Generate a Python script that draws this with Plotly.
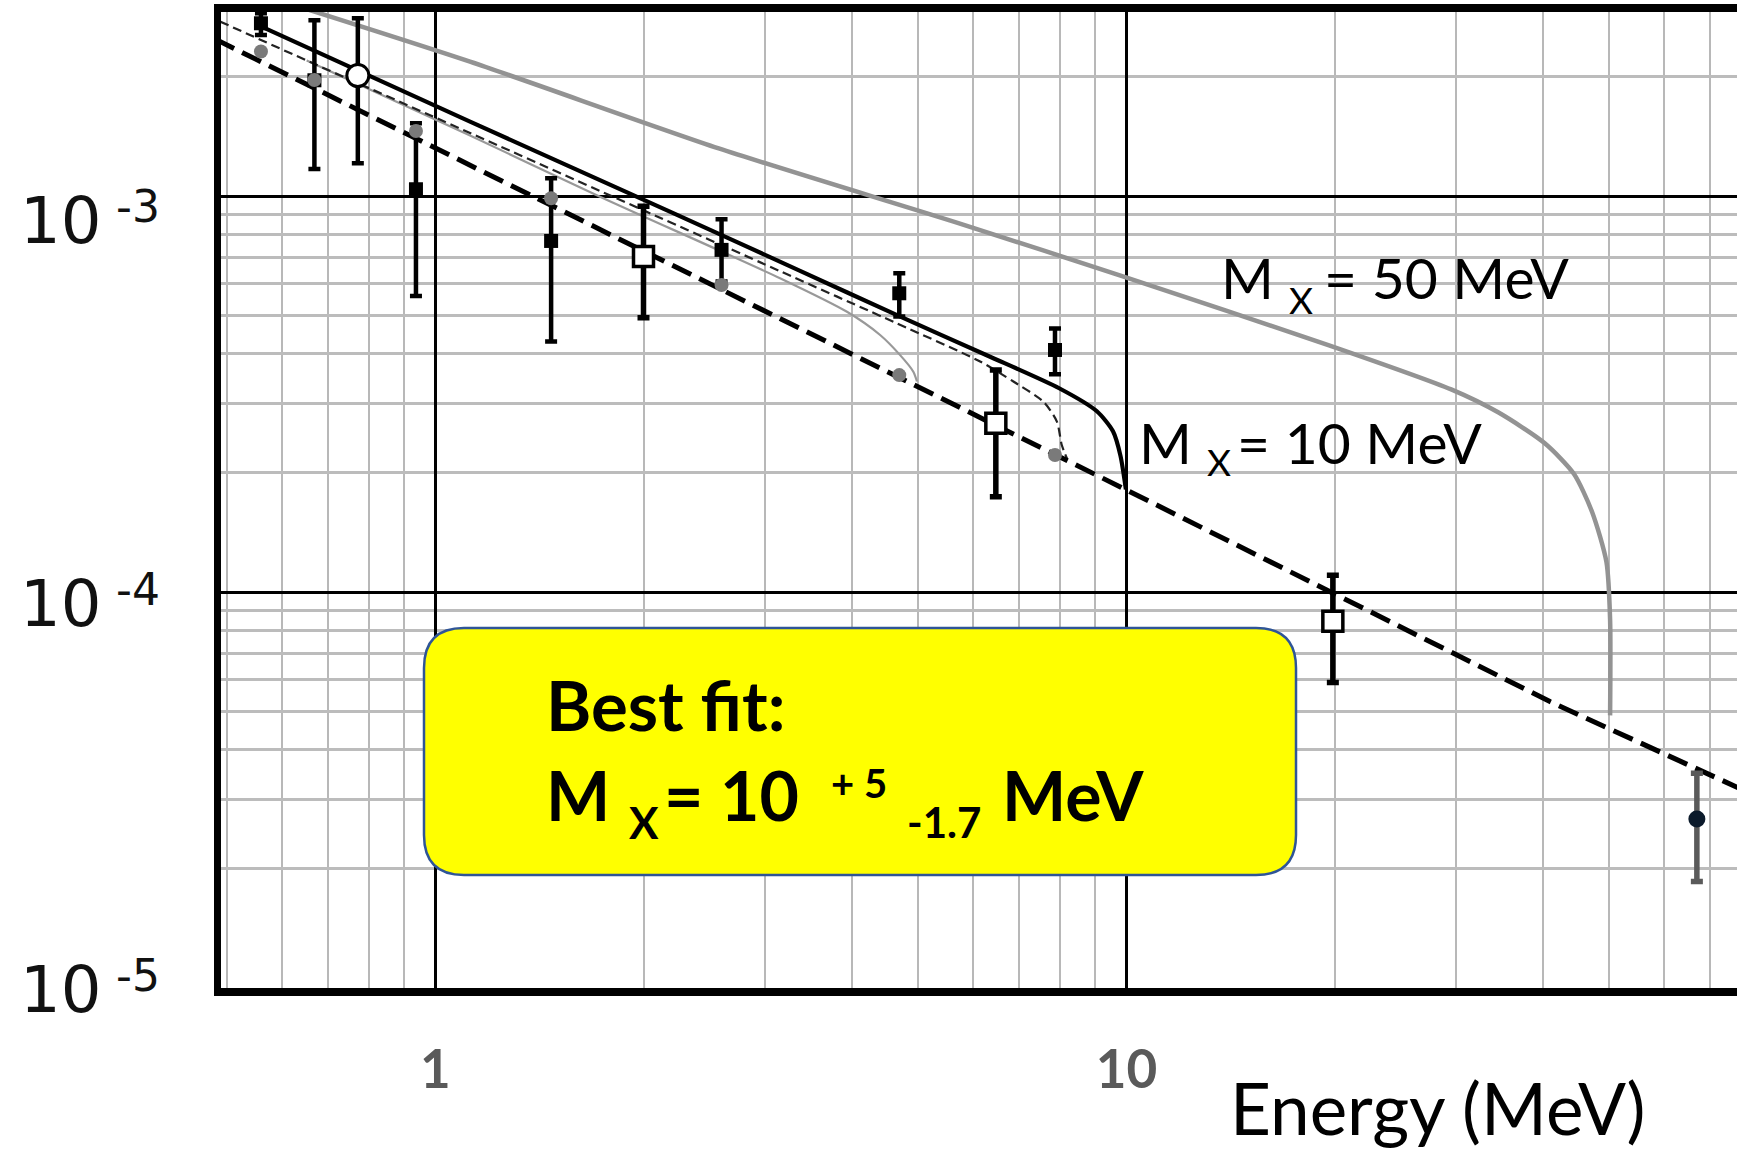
import math
import plotly.graph_objects as go

# ---------------- data ----------------
# thick dashed: no-X expectation
energy_bg = [0.48, 1.122, 10.0, 41.0, 80.0]
flux_bg = [2.49e-3, 1.197e-3, 1.81e-4, 5.29e-5, 3.10e-5]

# solid black: M_X = 10 MeV
energy_m10 = [0.560, 1.122, 2.2, 3.37, 4.655, 6.3, 7.99, 9.06, 9.56, 9.80, 9.98]
flux_m10 = [2.677e-3, 1.541e-3, 9.08e-4, 6.47e-4, 5.00e-4, 3.95e-4, 3.27e-4, 2.86e-4, 2.545e-4, 2.21e-4, 1.816e-4]

# thin dashed: intermediate mass
energy_m8 = [0.488, 0.665, 1.122, 2.0, 3.152, 4.65, 6.14, 6.86, 7.58, 7.93, 8.06, 8.20]
flux_m8 = [2.757e-3, 2.163e-3, 1.443e-3, 9.20e-4, 6.46e-4, 4.77e-4, 3.82e-4, 3.40e-4, 3.025e-4, 2.694e-4, 2.35e-4, 2.176e-4]

# thin grey solid: lower mass
energy_m5 = [0.651, 1.122, 1.73, 3.152, 3.94, 4.40, 4.70, 4.915, 4.975]
flux_m5 = [2.2e-3, 1.421e-3, 9.96e-4, 6.20e-4, 5.10e-4, 4.457e-4, 3.97e-4, 3.60e-4, 3.40e-4]

# thick grey solid: M_X = 50 MeV
energy_m50 = [0.612, 1.122, 2.57, 5.8, 9.98, 19.64, 29.5, 34.5, 40.3, 44.4, 47.2, 49.5, 50.1, 50.1]
flux_m50 = [3.067e-3, 2.184e-3, 1.319e-3, 8.47e-4, 6.23e-4, 4.198e-4, 3.249e-4, 2.843e-4,
            2.374e-4, 1.988e-4, 1.59e-4, 1.189e-4, 8.53e-5, 4.88e-5]

# filled squares
sq_e = [0.559, 0.668, 0.937, 1.47, 2.594, 4.69, 7.88]
sq_y = [2.73e-3, 1.96e-3, 1.04e-3, 7.70e-4, 7.31e-4, 5.68e-4, 4.085e-4]
sq_hi = [2.893e-3, 2.78e-3, 1.526e-3, 1.108e-3, 8.73e-4, 6.38e-4, 4.63e-4]
sq_lo = [2.55e-3, 1.17e-3, 5.59e-4, 4.29e-4, 6.08e-4, 4.96e-4, 3.546e-4]

# open circle
oc_e = [0.772]
oc_y = [2.014e-3]
oc_hi = [2.81e-3]
oc_lo = [1.209e-3]

# open squares
os_e = [2.0, 6.47, 19.89]
os_y = [7.03e-4, 2.667e-4, 8.44e-5]
os_hi = [9.42e-4, 3.635e-4, 1.102e-4]
os_lo = [4.93e-4, 1.741e-4, 5.91e-5]

# dark circle
dc_e = [66.9]
dc_y = [2.672e-5]
dc_hi = [3.485e-5]
dc_lo = [1.857e-5]

# grey dots (expectation at data energies)
gd_e = [0.559, 0.668, 0.937, 1.47, 2.594, 4.69, 7.88]
gd_y = [2.317e-3, 1.963e-3, 1.459e-3, 9.87e-4, 5.96e-4, 3.53e-4, 2.218e-4]

x_ticks = [1, 10]
x_ticktext = ["1", "10"]
y_ticks = [1e-5, 1e-4, 1e-3]
y_exponents = ["-5", "-4", "-3"]

# ---------------- layout geometry ----------------
W, H = 1737, 1152
L, R, T, B = 221, 0, 12, 164
PW, PH = W - L - R, H - T - B
XR = [-0.3104, 1.8835]
YR = [-5.0, -5.0 + PH / 396.0]


def px(x):
    return (x - L) / PW


def py(y):
    return (H - B - y) / PH


def err(y, hi, lo):
    return dict(type="data", symmetric=False,
                array=[h - v for h, v in zip(hi, y)],
                arrayminus=[v - l for v, l in zip(y, lo)])


fig = go.Figure()

fig.add_trace(go.Scatter(x=energy_m50, y=flux_m50, mode="lines",
                         line=dict(color="#939393", width=4.5, shape="spline", smoothing=0.7)))
fig.add_trace(go.Scatter(x=energy_m5, y=flux_m5, mode="lines",
                         line=dict(color="#999999", width=2.2, shape="spline", smoothing=0.7)))
fig.add_trace(go.Scatter(x=energy_m8, y=flux_m8, mode="lines",
                         line=dict(color="#222222", width=2.2, dash="9px,5px", shape="spline", smoothing=0.7)))
fig.add_trace(go.Scatter(x=energy_bg, y=flux_bg, mode="lines",
                         line=dict(color="black", width=5, dash="21px,9px")))
fig.add_trace(go.Scatter(x=energy_m10, y=flux_m10, mode="lines",
                         line=dict(color="black", width=4.2, shape="spline", smoothing=0.7)))

fig.add_trace(go.Scatter(x=sq_e, y=sq_y, mode="markers",
                         marker=dict(symbol="square", size=14, color="black"),
                         error_y=dict(err(sq_y, sq_hi, sq_lo), color="black", thickness=4.5, width=6)))
fig.add_trace(go.Scatter(x=oc_e, y=oc_y, mode="markers",
                         marker=dict(symbol="circle", size=22, color="white",
                                     line=dict(color="black", width=3)),
                         error_y=dict(err(oc_y, oc_hi, oc_lo), color="black", thickness=4.5, width=6)))
fig.add_trace(go.Scatter(x=os_e, y=os_y, mode="markers",
                         marker=dict(symbol="square", size=20, color="white",
                                     line=dict(color="black", width=3.5)),
                         error_y=dict(err(os_y, os_hi, os_lo), color="black", thickness=5.5, width=6)))
fig.add_trace(go.Scatter(x=dc_e, y=dc_y, mode="markers",
                         marker=dict(symbol="circle", size=17, color="#0b1a2b"),
                         error_y=dict(err(dc_y, dc_hi, dc_lo), color="#5a5a5a", thickness=5.5, width=6)))
fig.add_trace(go.Scatter(x=gd_e, y=gd_y, mode="markers",
                         marker=dict(symbol="circle", size=14, color="#7a7a7a")))

minor_x = [m * 10 ** k for k in (-1, 0, 1) for m in range(2, 10)]
minor_y = [m * 10 ** k for k in (-5, -4, -3) for m in range(2, 10)]

fig.update_xaxes(type="log", range=XR, tickmode="array", tickvals=x_ticks, ticktext=x_ticktext,
                 tickfont=dict(family="Lato", size=53, color="#5a5a5a", weight="bold"),
                 ticks="", ticklabelstandoff=28, automargin=False,
                 showgrid=True, gridcolor="black", gridwidth=2.5,
                 minor=dict(tickmode="array", tickvals=minor_x, showgrid=True,
                            gridcolor="#b8b8b8", gridwidth=2),
                 showline=True, linewidth=8, linecolor="black", mirror=True, zeroline=False)
fig.update_yaxes(type="log", range=YR, tickmode="array", tickvals=y_ticks, showticklabels=False,
                 ticks="", automargin=False, showgrid=True, gridcolor="black", gridwidth=2.5,
                 minor=dict(tickmode="array", tickvals=minor_y, showgrid=True,
                            gridcolor="#bcbcbc", gridwidth=2.5),
                 showline=True, linewidth=7, linecolor="black", mirror=False, zeroline=False)

anns = []


def txt(text, left, cy, size, bold=False, family="Lato", color="black"):
    anns.append(dict(text=text, xref="paper", yref="paper", x=px(left), y=py(cy),
                     xanchor="left", yanchor="middle", showarrow=False,
                     font=dict(family=family, size=size, color=color,
                               weight="bold" if bold else "normal")))


# y tick labels
y_shift_main = [-1.5, -11.5, -24.5]
for v, e, s in zip(y_ticks, y_exponents, y_shift_main):
    anns.append(dict(text="10", xref="paper", yref="y", x=px(18), y=math.log10(v), yshift=s,
                     xanchor="left", yanchor="middle", showarrow=False,
                     font=dict(family="DejaVu Sans", size=64, color="#111111")))
    anns.append(dict(text=e, xref="paper", yref="y", x=px(114), y=math.log10(v), yshift=s + 14,
                     xanchor="left", yanchor="middle", showarrow=False,
                     font=dict(family="DejaVu Sans", size=44, color="#111111")))

# x axis title
txt("Energy (MeV)", 1228, 1107, 71)

# curve labels
txt("M", 1219, 277, 57)
txt("X", 1287, 299, 37)
txt("= 50 MeV", 1322, 277, 57)
txt("M", 1137, 442, 57)
txt("X", 1205, 461, 37)
txt("= 10 MeV", 1235, 442, 57)

# yellow box
x0, x1, y0, y1, r = 424, 1296, 628, 875, 40
path = (f"M {px(x0 + r)},{py(y0)} L {px(x1 - r)},{py(y0)} Q {px(x1)},{py(y0)} {px(x1)},{py(y0 + r)} "
        f"L {px(x1)},{py(y1 - r)} Q {px(x1)},{py(y1)} {px(x1 - r)},{py(y1)} "
        f"L {px(x0 + r)},{py(y1)} Q {px(x0)},{py(y1)} {px(x0)},{py(y1 - r)} "
        f"L {px(x0)},{py(y0 + r)} Q {px(x0)},{py(y0)} {px(x0 + r)},{py(y0)} Z")
fig.add_shape(type="path", path=path, xref="paper", yref="paper", layer="above",
              fillcolor="#FFFF00", line=dict(color="#2F5597", width=2.5))

txt("Best fit:", 544, 704, 69, bold=True)
txt("M", 544, 794, 68, bold=True)
txt("X", 627, 822, 44, bold=True)
txt("= 10", 662, 794, 68, bold=True)
txt("+ 5", 829, 783, 40, bold=True)
txt("-1.7", 905, 822, 42, bold=True)
txt("MeV", 1000, 794, 68, bold=True)

fig.update_layout(width=W, height=H, margin=dict(l=L, r=R, t=T, b=B, autoexpand=False),
                  paper_bgcolor="white", plot_bgcolor="white", showlegend=False,
                  annotations=anns)

fig.write_html("out.html", config={"displayModeBar": False},
               post_script="document.body.style.margin='0px';document.body.style.overflow='hidden';")
